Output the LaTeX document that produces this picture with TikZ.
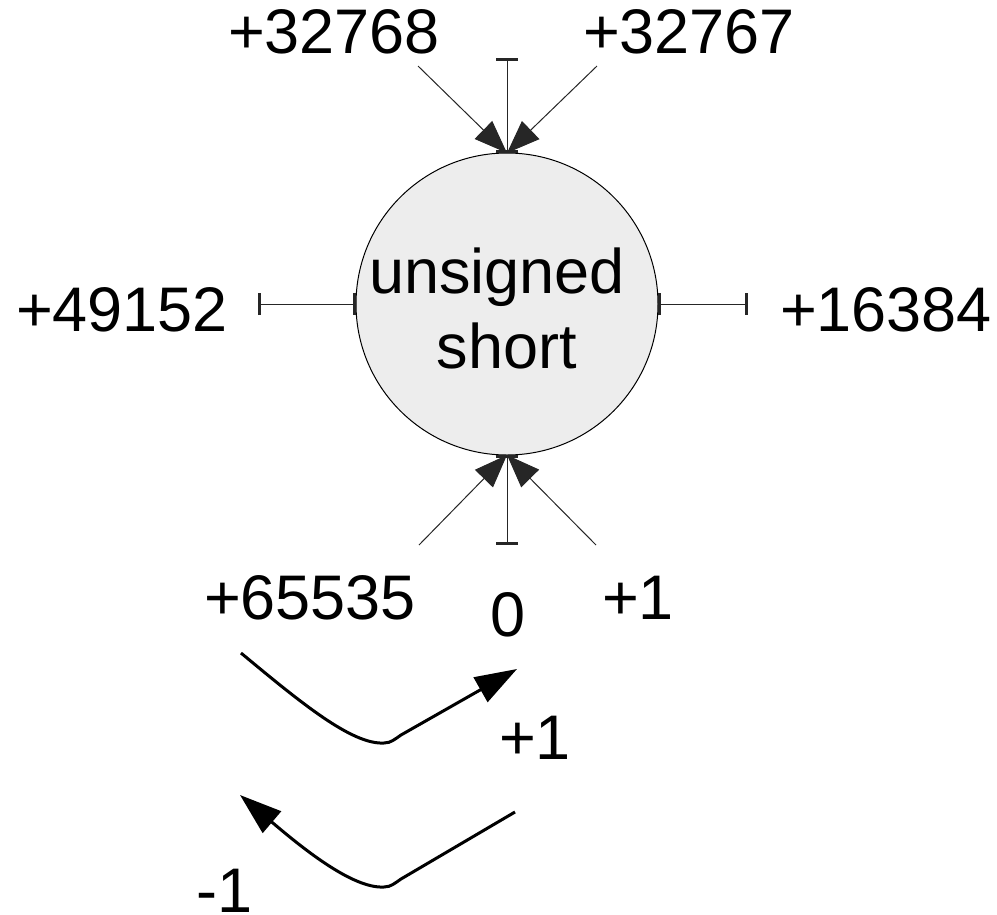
\documentclass[tikz,border=0pt]{standalone}
\usepackage{fontspec}
\setmainfont{Liberation Sans}
\usetikzlibrary{arrows.meta}
\begin{document}
\begin{tikzpicture}[x=1pt,y=-1pt,
  lbl/.style={anchor=base,inner sep=0pt,font=\fontsize{63}{75}\selectfont},
  thin connector/.style={line width=1pt,draw=black!85},
  pointer/.style={thin connector,-{Triangle[length=33pt,width=25pt]}},
  tickline/.style={thin connector,{Bar[width=22pt,line width=3pt]}-{Bar[width=22pt,line width=3pt]}},
  stepper/.style={line width=3pt,-{Triangle[length=42pt,width=28pt]}}]
\useasboundingbox (0,0) rectangle (997,914);
\node[circle,draw,line width=1pt,fill=black!7,minimum size=302pt,inner sep=0pt,outer sep=0pt] (c) at (507,304) {};
\node[align=center,inner sep=0pt,font=\fontsize{63}{75}\selectfont] (ctext) at (507,308.5) {unsigned\kern20pt\\short};
% free ends
\coordinate (topend) at (507,58);
\coordinate (botend) at (507,545);
\coordinate (leftend) at (258,304);
\coordinate (rightend) at (748,304);
\coordinate (tl) at (418,66);
\coordinate (tr) at (597,66);
\coordinate (bl) at (419,545);
\coordinate (br) at (596,545);
% tick lines
\draw[tickline] (c.north) -- (topend);
\draw[tickline] (c.south) -- (botend);
\draw[tickline] (c.west) -- (leftend);
\draw[tickline] (c.east) -- (rightend);
% pointers
\draw[pointer] (tl) -- (c.north);
\draw[pointer] (tr) -- (c.north);
\draw[pointer] (bl) -- (c.south);
\draw[pointer] (br) -- (c.south);
% labels
\node[lbl] (l32768) at (334,53) {+32768};
\node[lbl] (l32767) at (689,53) {+32767};
\node[lbl] (l49152) at (122,331) {+49152};
\node[lbl] (l16384) at (886,331) {+16384};
\node[lbl] (l65535) at (310,619) {+65535};
\node[lbl] (l0) at (508,636) {0};
\node[lbl] (l1) at (638,619) {+1};
\node[lbl] (inc) at (535,759) {+1};
\node[lbl] (dec) at (225,912) {-1};
% step arrows
\coordinate (s1a) at (241,653);
\coordinate (s1b) at (517,669);
\coordinate (s2a) at (515,812);
\coordinate (s2b) at (240,795);
\draw[stepper] (s1a) .. controls (300,702) and (352,745) .. (384,743)
   .. controls (391,743) and (395,739) .. (401,735) -- (s1b);
\draw[stepper] (s2a) -- (401,879) .. controls (395,883) and (391,887) .. (384,887)
   .. controls (352,889) and (300,846) .. (s2b);
\end{tikzpicture}
\end{document}
